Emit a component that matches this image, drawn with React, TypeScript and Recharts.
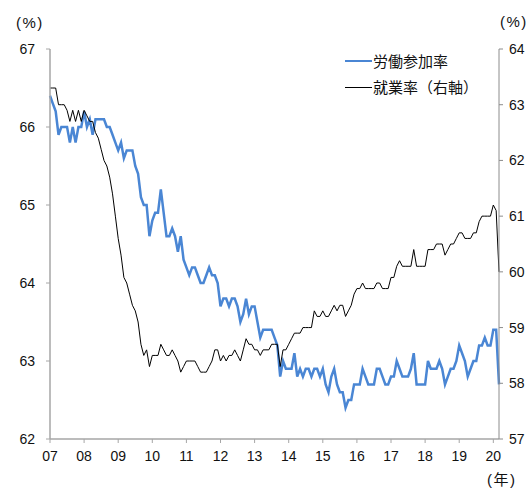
import React from 'react';
import { LineChart, Line, XAxis, YAxis, Legend } from 'recharts';

// Monthly series, Jan 2007 – Mar 2020 (%)
const yearLabels = ['07', '08', '09', '10', '11', '12', '13', '14', '15', '16', '17', '18', '19', '20'];

// Labor force participation rate (left axis)
const participation = [
  66.4, 66.3, 66.2, 65.9, 66.0, 66.0, 66.0, 65.8, 66.0, 65.8, 66.0, 66.0,
  66.2, 66.0, 66.1, 65.9, 66.1, 66.1, 66.1, 66.1, 66.0, 66.0, 65.9, 65.8,
  65.7, 65.8, 65.6, 65.7, 65.7, 65.7, 65.5, 65.4, 65.1, 65.0, 65.0, 64.6,
  64.8, 64.9, 64.9, 65.2, 64.9, 64.6, 64.6, 64.7, 64.6, 64.4, 64.6, 64.3,
  64.2, 64.1, 64.2, 64.2, 64.1, 64.0, 64.0, 64.1, 64.2, 64.1, 64.1, 64.0,
  63.7, 63.8, 63.8, 63.7, 63.8, 63.8, 63.7, 63.5, 63.6, 63.8, 63.6, 63.7,
  63.7, 63.5, 63.3, 63.4, 63.4, 63.4, 63.4, 63.3, 63.2, 62.8, 63.0, 62.9,
  62.9, 62.9, 63.1, 62.8, 62.9, 62.8, 62.9, 62.9, 62.8, 62.9, 62.9, 62.8,
  62.9, 62.7, 62.6, 62.8, 62.9, 62.7, 62.6, 62.6, 62.4, 62.5, 62.5, 62.7,
  62.7, 62.7, 62.9, 62.8, 62.7, 62.7, 62.7, 62.9, 62.9, 62.8, 62.7, 62.7,
  62.8, 62.8, 63.0, 62.9, 62.8, 62.8, 62.8, 62.9, 63.1, 62.7, 62.7, 62.7,
  62.7, 63.0, 62.9, 62.9, 62.9, 63.0, 62.9, 62.7, 62.8, 62.9, 62.9, 63.0,
  63.2, 63.1, 63.0, 62.8, 62.9, 63.0, 63.0, 63.2, 63.2, 63.3, 63.2, 63.2,
  63.4, 63.4, 62.7,
];

// Employment-population ratio (right axis)
const employment = [
  63.3, 63.3, 63.3, 63.0, 63.0, 63.0, 62.9, 62.7, 62.9, 62.7, 62.9, 62.7,
  62.9, 62.8, 62.7, 62.7, 62.5, 62.4, 62.2, 62.0, 61.9, 61.7, 61.4, 61.0,
  60.6, 60.3, 59.9, 59.8, 59.6, 59.4, 59.3, 59.1, 58.7, 58.5, 58.6, 58.3,
  58.5, 58.5, 58.5, 58.7, 58.6, 58.5, 58.5, 58.6, 58.5, 58.4, 58.2, 58.3,
  58.4, 58.4, 58.4, 58.4, 58.3, 58.2, 58.2, 58.2, 58.3, 58.4, 58.6, 58.6,
  58.4, 58.5, 58.4, 58.5, 58.5, 58.6, 58.5, 58.4, 58.6, 58.8, 58.7, 58.7,
  58.6, 58.6, 58.5, 58.6, 58.6, 58.6, 58.7, 58.7, 58.7, 58.3, 58.6, 58.6,
  58.7, 58.8, 58.9, 58.9, 58.9, 59.0, 59.0, 59.0, 59.0, 59.3, 59.2, 59.2,
  59.3, 59.2, 59.2, 59.3, 59.4, 59.3, 59.4, 59.4, 59.2, 59.3, 59.4, 59.6,
  59.7, 59.7, 59.8, 59.7, 59.7, 59.7, 59.7, 59.8, 59.8, 59.7, 59.7, 59.7,
  59.9, 59.9, 60.1, 60.2, 60.1, 60.1, 60.1, 60.1, 60.4, 60.1, 60.1, 60.1,
  60.1, 60.4, 60.4, 60.4, 60.5, 60.5, 60.5, 60.3, 60.4, 60.5, 60.5, 60.6,
  60.7, 60.7, 60.6, 60.6, 60.6, 60.7, 60.7, 60.9, 61.0, 61.0, 61.0, 61.0,
  61.2, 61.1, 60.0,
];

const leftTicks = [62, 63, 64, 65, 66, 67];
const rightTicks = [57, 58, 59, 60, 61, 62, 63, 64];

const seriesNames = { participation: '労働参加率', employment: '就業率（右軸）' };
const unitPct = '(%)';
const unitYear = '(年)';

const data = participation.map((v, i) => ({ m: i, participation: v, employment: employment[i] }));
const yearTicks = yearLabels.map((_, k) => k * 12);

const BLUE = '#4a86d4';
const CJK = '"Noto Sans CJK JP", "Noto Sans", sans-serif';
const NUM = '"Liberation Sans", Arial, sans-serif';

const tickStyle = { fontSize: 14, fill: '#111', fontFamily: NUM };

const LegendBox = () => (
  <div style={{ fontFamily: CJK, fontSize: 15, color: '#111', lineHeight: '26px' }}>
    {[
      { name: seriesNames.participation, color: BLUE, w: 2.5 },
      { name: seriesNames.employment, color: '#000', w: 1 },
    ].map((it) => (
      <div key={it.name} style={{ display: 'flex', alignItems: 'center', height: 26 }}>
        <div style={{ width: 27, height: it.w, background: it.color, marginRight: 1 }} />
        <span>{it.name}</span>
      </div>
    ))}
  </div>
);

// Unit captions placed around the plot
const caption = (left: number, top: number): React.CSSProperties => ({
  position: 'absolute',
  left,
  top,
  fontFamily: `${NUM.split(',')[0]}, ${CJK}`,
  fontSize: 15,
  letterSpacing: 1.5,
  color: '#111',
  lineHeight: '16px',
  whiteSpace: 'nowrap',
});

export default function App() {
  return (
    <div style={{ position: 'absolute', left: 0, top: 0, width: 532, height: 488, background: '#fff' }}>
      <LineChart width={532} height={488} data={data} margin={{ top: 49, right: 0, left: 0, bottom: 19 }}>
        <XAxis
          dataKey="m"
          type="number"
          domain={[0, 158]}
          ticks={yearTicks}
          tickFormatter={(v: number) => yearLabels[Math.round(v / 12)]}
          height={30}
          tickSize={4}
          tickMargin={8}
          tick={tickStyle}
          axisLine={{ stroke: '#a6a6a6', strokeWidth: 1.5 }}
          tickLine={{ stroke: '#a6a6a6' }}
          interval={0}
        />
        <YAxis
          yAxisId="left"
          domain={[62, 67]}
          ticks={leftTicks}
          width={50}
          tickSize={4}
          tickMargin={11}
          tick={tickStyle}
          axisLine={{ stroke: '#a6a6a6', strokeWidth: 1.5 }}
          tickLine={{ stroke: '#a6a6a6' }}
          interval={0}
        />
        <YAxis
          yAxisId="right"
          orientation="right"
          domain={[57, 64]}
          ticks={rightTicks}
          width={33}
          tickSize={4}
          tickMargin={6}
          tick={tickStyle}
          axisLine={{ stroke: '#8c8c8c' }}
          tickLine={{ stroke: '#8c8c8c' }}
          interval={0}
        />
        <Legend
          layout="vertical"
          align="center"
          verticalAlign="middle"
          content={() => <LegendBox />}
          wrapperStyle={{ left: 345, top: 48, width: 'auto' }}
        />
        <Line
          yAxisId="left"
          type="linear"
          dataKey="participation"
          name={seriesNames.participation}
          stroke={BLUE}
          strokeWidth={2.5}
          dot={false}
          isAnimationActive={false}
        />
        <Line
          yAxisId="right"
          type="linear"
          dataKey="employment"
          name={seriesNames.employment}
          stroke="#000"
          strokeWidth={1}
          dot={false}
          isAnimationActive={false}
        />
      </LineChart>
      <div style={caption(16, 15)}>{unitPct}</div>
      <div style={caption(500, 14)}>{unitPct}</div>
      <div style={caption(487, 472)}>{unitYear}</div>
    </div>
  );
}
